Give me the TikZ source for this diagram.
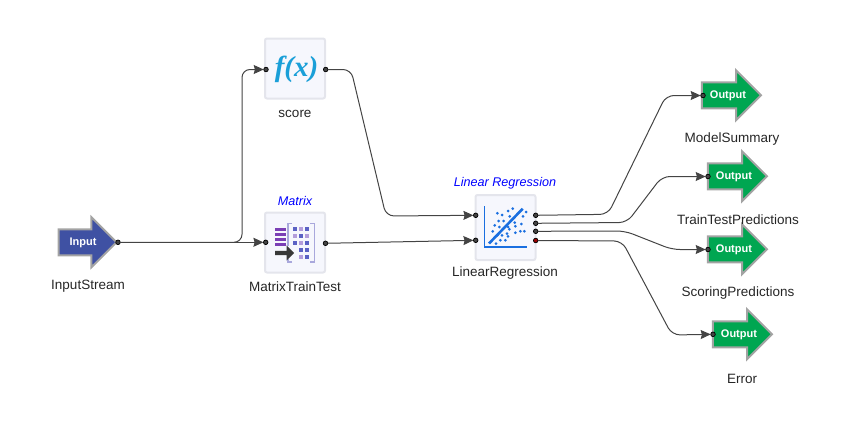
\documentclass[tikz,border=0pt]{standalone}
\usepackage{fontspec}
\setmainfont{Liberation Sans}
\newfontfamily\fxfont{Liberation Serif}
\usetikzlibrary{arrows.meta,shapes.arrows}

\definecolor{boxfill}{HTML}{F6F7FD}
\definecolor{boxline}{HTML}{E4E5EC}
\definecolor{arrowline}{HTML}{A3A3A3}
\definecolor{inputfill}{HTML}{3F51A3}
\definecolor{outputfill}{HTML}{00A651}
\definecolor{wirecol}{HTML}{444444}
\definecolor{fxcol}{HTML}{1A9FD8}
\definecolor{barcol}{HTML}{7B3FB5}
\definecolor{cellblue}{HTML}{5B62C4}
\definecolor{celllight}{HTML}{B39DDB}
\definecolor{bracketcol}{HTML}{A9A8DC}
\definecolor{plotcol}{HTML}{1A6FE0}

\tikzset{
blockbox/.style={draw=boxline, fill=boxfill, line width=2pt, rounded corners=2pt,
  minimum width=60pt, minimum height=60pt, inner sep=0pt, outer sep=0pt},
flowarrow/.style={single arrow, draw=arrowline, line width=2pt, anchor=tip,
  minimum width=48pt, minimum height=58pt, single arrow head extend=12pt,
  text height=7pt, text depth=0pt, inner xsep=1pt, inner ysep=8.5pt, outer sep=0pt,
  text=white, font=\fontsize{11}{12}\selectfont\bfseries,
  execute at begin node=\hspace*{6pt}},
port/.style={circle, draw=black, fill=wirecol, line width=0.7pt,
  minimum size=4.6pt, inner sep=0pt, outer sep=0pt},
wire/.style={draw=wirecol, line width=1pt, rounded corners=8pt},
wirein/.style={wire, -{Stealth[length=10pt,width=9pt,inset=1.2pt]}},
caption/.style={font=\fontsize{13.5}{16}\selectfont, text=black!85, inner sep=0pt},
kind/.style={font=\fontsize{12.6}{15}\selectfont\itshape, text=blue, inner sep=0pt},
}

\begin{document}
\begin{tikzpicture}[x=1pt, y=-1pt]
\useasboundingbox (0,0) rectangle (852,431);

% стрелки входа и выхода
\node[flowarrow, fill=inputfill, execute at begin node=\hspace*{-2pt}] (inputArrow) at (116.5,242.3) {Input};
\node[flowarrow, fill=outputfill] (summaryArrow) at (761,95.3) {Output};
\node[flowarrow, fill=outputfill] (trainArrow) at (767,176.3) {Output};
\node[flowarrow, fill=outputfill] (scoringArrow) at (767,249.3) {Output};
\node[flowarrow, fill=outputfill] (errorArrow) at (772,334.3) {Output};

% блоки
\node[blockbox] (scoreBox) at (295,68.5) {};
\node[blockbox] (matrixBox) at (295,242.5) {};
\node[blockbox, minimum height=65pt] (linregBox) at (505.5,227.5) {};

\node[font=\fxfont\fontsize{29}{29}\selectfont\bfseries\itshape, text=fxcol, inner sep=0pt]
  (fxText) at (296.5,69) {f(x)};

% значок матрицы
\foreach \y in {227.7,232.7,237.7,242.7}
  \fill[barcol] (275,\y) rectangle +(10.5,3.4);
\foreach \x/\y/\c in {294.7/229/cellblue, 301/229/celllight, 307/229/cellblue,
  294.7/235.7/celllight, 301/235.7/cellblue, 307/235.7/celllight,
  294.7/242.7/cellblue, 301/242.7/celllight, 307/242.7/cellblue,
  301/249.7/cellblue, 307/249.7/cellblue,
  301/256.7/celllight, 307/256.7/cellblue}
  \fill[\c] (\x-2,\y-2) rectangle +(4,4);
\draw[bracketcol, line width=1.6pt] (292,223.5) -- (287.8,223.5) -- (287.8,246);
\draw[bracketcol, line width=1.6pt] (292,261.8) -- (287.8,261.8) -- (287.8,259);
\draw[bracketcol, line width=1.6pt] (310,223.5) -- (314.3,223.5) -- (314.3,261.8) -- (310,261.8);
\fill[black!78] (275,250.8) -- (286.5,250.8) -- (286.5,245.3) -- (294,253) -- (286.5,260.7)
  -- (286.5,255.2) -- (275,255.2) -- cycle;

% значок регрессии
\draw[plotcol, line width=1.3pt] (484.4,206) -- (484.4,247) -- (527,247);
\draw[plotcol, line width=2.6pt] (489,243.5) -- (522.7,208.7);
\foreach \x/\y in {122/50,108/57,76/64,90/69,113/73,162/60,153/73,80/87,95/87,68/100,
  82/105,128/92,148/96,130/103,62/118,108/105,112/112,130/122,145/118,157/118,
  76/130,90/130,105/125,72/155,85/145,100/145,108/133}
  \fill[plotcol] ({472+\x/3},{192+\y/3}) circle (1.5pt);

% подписи
\node[caption] (inputLabel) at (88,286) {InputStream};
\node[caption] (scoreLabel) at (295,113.5) {score};
\node[caption] (matrixLabel) at (295,286.5) {MatrixTrainTest};
\node[caption] (linregLabel) at (505,273.5) {LinearRegression};
\node[caption] (summaryLabel) at (732,139.5) {ModelSummary};
\node[caption] (trainLabel) at (738,219.5) {TrainTestPredictions};
\node[caption] (scoringLabel) at (738,293.5) {ScoringPredictions};
\node[caption] (errorLabel) at (742,378.5) {Error};
\node[kind] (matrixKind) at (295,201) {Matrix};
\node[kind] (linregKind) at (505,183) {Linear Regression};

% порты
\node[port] (inputOut) at (118,242.3) {};
\node[port] (scoreIn) at (266,69.5) {};
\node[port] (scoreOut) at (325.7,69.5) {};
\node[port] (matrixIn) at (265.7,242.3) {};
\node[port] (matrixOut) at (325.5,243.3) {};
\node[port] (linregInA) at (475.7,215.3) {};
\node[port] (linregInB) at (475.7,240.3) {};
\node[port] (linregOutA) at (535.7,215.3) {};
\node[port] (linregOutB) at (535.7,223.3) {};
\node[port] (linregOutC) at (535.7,231.3) {};
\node[port, fill=red!60!black] (linregOutD) at (535.7,240.5) {};
\node[port] (summaryIn) at (703,95.5) {};
\node[port] (trainIn) at (708,176.5) {};
\node[port] (scoringIn) at (708,249.5) {};
\node[port] (errorIn) at (713,334.3) {};

% связи
\draw[wirein] (inputOut) -- (242,242.3) -- (242,69.5) -- (scoreIn);
\draw[wirein] (inputOut) -- (matrixIn);
\draw[wirein] (scoreOut) -- (351,69.5) -- (386,216) -- (linregInA);
\draw[wirein] (matrixOut) -- (linregInB);
\draw[wirein] (linregOutA) -- (608,214.3) -- (666,95.5) -- (summaryIn);
\draw[wirein] (linregOutB) -- (627,222.5) -- (662,176.5) -- (trainIn);
\draw[wirein] (linregOutC) -- (625,231) -- (672,249.5) -- (scoringIn);
\draw[wirein] (linregOutD) -- (622,241) -- (672,335) -- (errorIn);
\end{tikzpicture}
\end{document}
